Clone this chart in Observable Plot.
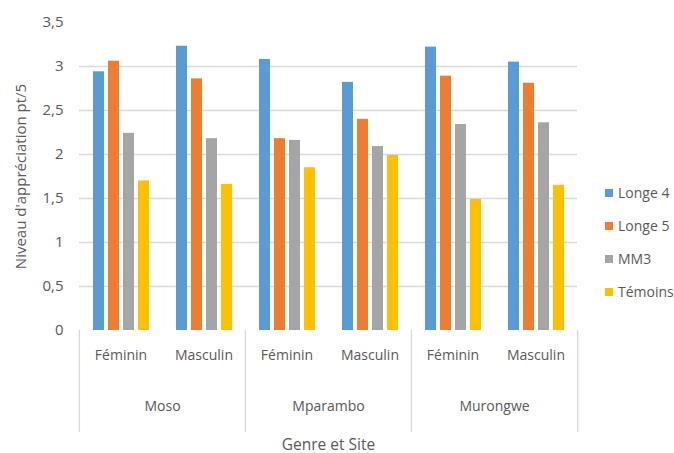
<!DOCTYPE html>
<html><head><meta charset="utf-8">
<script src="https://cdn.jsdelivr.net/npm/d3@7"></script>
<script src="https://cdn.jsdelivr.net/npm/@observablehq/plot@0.6"></script>
<style>
body{margin:0;background:#fff;}
#chart{position:relative;width:674px;height:453px;font-family:"Open Sans",sans-serif;color:#595959;}
#chart svg{position:absolute;left:0;top:0;}
#legend{position:absolute;left:605px;top:176px;}
.item{display:flex;align-items:center;height:33px;font-size:14px;line-height:1;}
.sw{width:8px;height:8px;margin-right:5px;flex:none;}
</style></head><body><div id="chart"><div id="legend"></div></div>
<script>
// Categories
const sites = ["Moso", "Mparambo", "Murongwe"];
const genres = ["Féminin", "Masculin"];
const series = ["Longe 4", "Longe 5", "MM3", "Témoins"];
// Values per series, order: Moso F, Moso M, Mparambo F, Mparambo M, Murongwe F, Murongwe M
const longe4 = [2.94, 3.23, 3.08, 2.82, 3.22, 3.05];
const longe5 = [3.06, 2.86, 2.18, 2.40, 2.89, 2.81];
const mm3 = [2.24, 2.18, 2.16, 2.09, 2.34, 2.36];
const temoins = [1.70, 1.66, 1.85, 1.99, 1.49, 1.65];
const yTicks = [0, 0.5, 1, 1.5, 2, 2.5, 3, 3.5];
const colors = ["#5b9bd5", "#ed7d31", "#a5a5a5", "#ffc000"];
const xTitle = "Genre et Site";
const yTitle = "Niveau d'appréciation pt/5";

const seriesValues = [longe4, longe5, mm3, temoins];
const rows = [];
const keys = [];
sites.forEach((s, i) => genres.forEach((g, j) => {
  const k = i * genres.length + j;
  const key = s + "|" + g;
  keys.push(key);
  series.forEach((name, m) => rows.push({site: s, genre: g, key, serie: name, value: seriesValues[m][k]}));
}));
const femKeys = sites.map(s => s + "|" + genres[0]);
const lastKey = keys[keys.length - 1];

const W = 674, H = 453, mL = 78, mR = 97, mT = 22, mB = 123;
const frameH = H - mT - mB;
const facetW = (W - mL - mR) / keys.length;
const fmt = d => String(d).replace(".", ",");
const grid = "#d9d9d9";
const sepLen = 102;

const chart = Plot.plot({
  width: W, height: H,
  marginLeft: mL, marginRight: mR, marginTop: mT, marginBottom: mB,
  style: {fontFamily: "'Open Sans', sans-serif", fontSize: "14px", color: "#595959", background: "transparent"},
  fx: {domain: keys, padding: 0},
  x: {domain: series, paddingInner: 0.27, paddingOuter: 0.9, axis: null},
  y: {domain: [0, 3.5]},
  color: {domain: series, range: colors},
  marks: [
    Plot.ruleY(yTicks.filter(d => d > 0 && d < 3.5), {stroke: grid, strokeWidth: 1.3}),
    Plot.barY(rows, {fx: "key", x: "serie", y: "value", fill: "serie"}),
    Plot.axisY(yTicks, {tickSize: 0, tickPadding: 16, tickFormat: fmt, label: yTitle, labelAnchor: "center", labelOffset: 64, labelArrow: "none", fontSize: 15}),
    // gender labels
    Plot.text(keys, {fx: d => d, text: d => d.split("|")[1], frameAnchor: "bottom", dy: 29, fill: "#595959"}),
    // site labels (centred on the boundary between the two genders)
    Plot.text(femKeys, {fx: d => d, text: d => d.split("|")[0], frameAnchor: "bottom-right", textAnchor: "middle", dy: 80, fill: "#595959"}),
    // separators
    Plot.ruleX(femKeys, {fx: d => d, x: null, dx: -facetW / 2, insetTop: frameH, insetBottom: -sepLen, stroke: grid, strokeWidth: 1.3}),
    Plot.ruleX([lastKey], {fx: d => d, x: null, dx: facetW / 2, insetTop: frameH, insetBottom: -sepLen, stroke: grid, strokeWidth: 1.3}),
    Plot.axisFx([], {anchor: "bottom", label: xTitle, labelAnchor: "center", labelOffset: 119, labelArrow: "none", fontSize: 15.5})
  ]
});
document.getElementById("chart").appendChild(chart);

const legend = document.getElementById("legend");
series.forEach((name, i) => {
  const item = document.createElement("div");
  item.className = "item";
  const sw = document.createElement("span");
  sw.className = "sw";
  sw.style.background = colors[i];
  const t = document.createElement("span");
  t.textContent = name;
  item.appendChild(sw);
  item.appendChild(t);
  legend.appendChild(item);
});
</script>
</body></html>
